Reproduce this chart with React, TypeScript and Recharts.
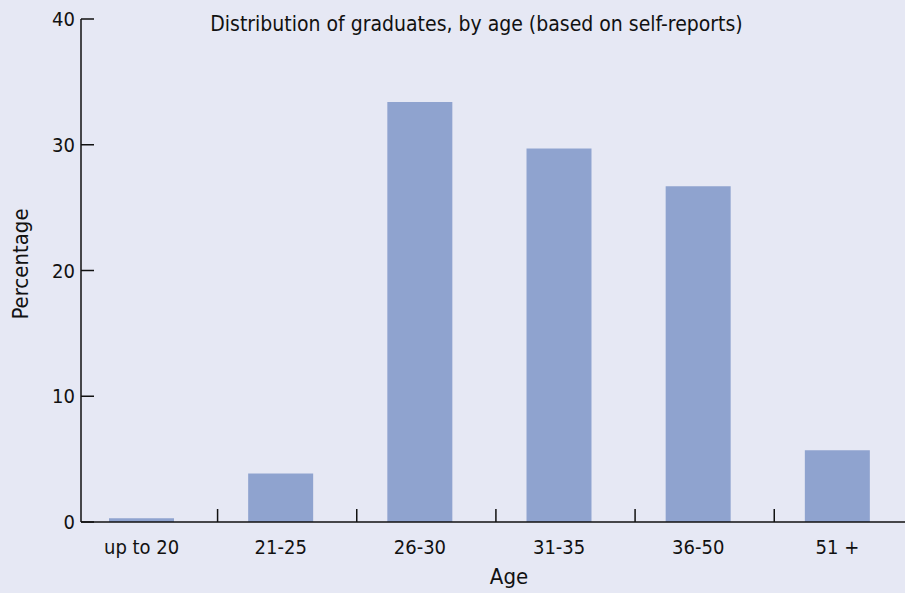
import React from 'react';
import { BarChart, Bar, XAxis, YAxis, Label } from 'recharts';

// Distribution of graduates by age group (percent)
const ageGroups = ['up to 20', '21-25', '26-30', '31-35', '36-50', '51 +'];
const percentages = [0.3, 3.85, 33.4, 29.7, 26.7, 5.7];
const yTicks = [0, 10, 20, 30, 40];

const data = ageGroups.map((age, i) => ({ age, pct: percentages[i] }));

const FONT = "'DejaVu Sans Condensed', 'Liberation Sans Narrow', 'Open Sans', sans-serif";
const BG = '#e6e8f4';
const BAR_COLOR = '#8fa3cf';
const INK = '#111111';

function XTick(props: any) {
  const { x, y, payload, index } = props;
  return (
    <g>
      <text x={x} y={y + 32} textAnchor="middle" fill={INK} fontSize={20} fontFamily={FONT}>
        {payload.value}
      </text>
      {/* divider ticks between categories, pointing up into the plot */}
      {index < ageGroups.length - 1 && (
        <line x1={x + 76} x2={x + 76} y1={y} y2={y - 13} stroke={INK} strokeWidth={1.5} />
      )}
    </g>
  );
}

function YTick(props: any) {
  const { x, y, payload } = props;
  return (
    <g>
      <line x1={x} x2={x + 13} y1={y} y2={y} stroke={INK} strokeWidth={1.5} />
      <text x={x - 6} y={y} dy="0.35em" textAnchor="end" fill={INK} fontSize={20} fontFamily={FONT}>
        {payload.value}
      </text>
    </g>
  );
}

export default function App() {
  return (
    <div style={{ position: 'absolute', left: 0, top: 0, width: 905, height: 593, background: BG }}>
      <BarChart
        width={905}
        height={593}
        data={data}
        margin={{ top: 19, right: 0, bottom: 41, left: 0 }}
      >
        <XAxis
          dataKey="age"
          height={30}
          padding={{ left: -9, right: -2 }}
          axisLine={{ stroke: INK, strokeWidth: 1.5 }}
          tickLine={false}
          tickSize={0}
          tickMargin={0}
          tick={<XTick />}
          interval={0}
        >
          <Label
            content={() => (
              <text x={509} y={584} textAnchor="middle" fill={INK} fontSize={22} fontFamily={FONT}>
                Age
              </text>
            )}
          />
        </XAxis>
        <YAxis
          width={81}
          domain={[0, 40]}
          ticks={yTicks}
          axisLine={{ stroke: INK, strokeWidth: 1.5 }}
          tickLine={false}
          tickSize={0}
          tickMargin={0}
          tick={<YTick />}
        >
          <Label
            content={() => (
              <text
                x={28}
                y={264}
                transform="rotate(-90 28 264)"
                textAnchor="middle"
                fill={INK}
                fontSize={22}
                fontFamily={FONT}
              >
                Percentage
              </text>
            )}
          />
        </YAxis>
        <Bar dataKey="pct" fill={BAR_COLOR} barSize={65} isAnimationActive={false} />
      </BarChart>
      <div
        style={{
          position: 'absolute',
          left: 0,
          top: 10,
          width: 953,
          textAlign: 'center',
          fontFamily: FONT,
          fontSize: 21,
          color: INK,
          lineHeight: '28px',
        }}
      >
        Distribution of graduates, by age (based on self-reports)
      </div>
    </div>
  );
}
